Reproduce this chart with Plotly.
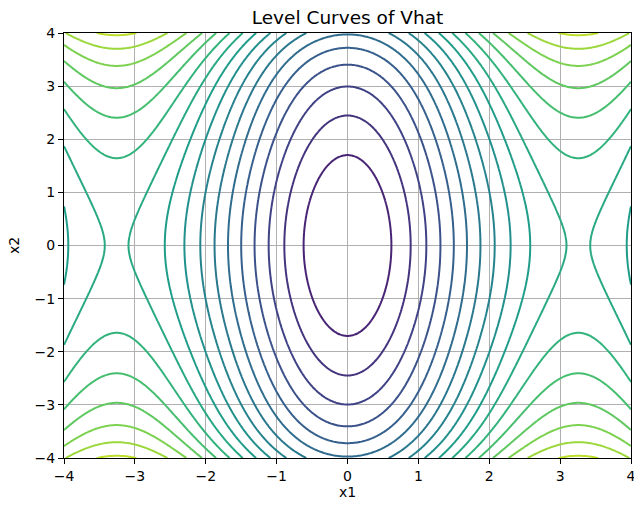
import numpy as np
import plotly.graph_objects as go
from plotly.colors import sample_colorscale

# where the level curves cross the x1 axis (x2 = 0), and their level index
x1_cross = [0.615, 0.88, 1.115, 1.30, 1.505, 1.69, 1.88, 2.08, 2.30, 2.57, 3.07, 3.25, 3.43, 3.94]
x1_level = [1, 2, 3, 4, 5, 6, 7, 8, 9, 10, 11, 11.04, 11, 10]

# where the level curves cross the x2 axis (x1 = 0)
x2_cross = [1.72, 2.44, 2.99, 3.40, 3.73, 3.97]
x2_level = [1, 2, 3, 4, 5, 6]

levels = list(range(1, 18))
tick_vals = [-4, -3, -2, -1, 0, 1, 2, 3, 4]


def fit_even(xs, vs, n):
    # even polynomial through the origin, least squares on the read crossings
    xs = np.asarray(xs, float)
    A = np.column_stack([xs ** (2 * k) for k in range(1, n + 1)])
    coef, *_ = np.linalg.lstsq(A, np.asarray(vs, float), rcond=None)
    return lambda t: sum(c * t ** (2 * k) for k, c in enumerate(coef, start=1))


f1 = fit_even(x1_cross, x1_level, 4)
f2 = fit_even(x2_cross, x2_level, 3)

x = np.linspace(-4, 4, 400)
y = np.linspace(-4, 4, 400)
X, Y = np.meshgrid(x, y)
Z = f1(X) + f2(Y)

# viridis, but only the part that the levels use in the reference
pos = np.linspace(0.1, 0.9, 17)
cscale = [[i / 16, c] for i, c in enumerate(sample_colorscale("Viridis", list(pos)))]

fig = go.Figure()
fig.add_trace(go.Contour(
    x=x, y=y, z=Z,
    contours=dict(coloring="lines", start=levels[0], end=levels[-1], size=1),
    line=dict(width=2),
    colorscale=cscale,
    showscale=False,
    hoverinfo="skip",
))

axis_style = dict(
    range=[-4, 4],
    tickvals=tick_vals,
    showgrid=True, gridcolor="#b0b0b0", gridwidth=1,
    zeroline=False,
    showline=True, linecolor="black", linewidth=1, mirror=True,
    ticks="outside", ticklen=5, tickcolor="black",
    tickfont=dict(size=14, color="black"),
    automargin=False,
    ticklabeloverflow="allow",
)

fig.update_layout(
    width=634, height=506,
    margin=dict(l=64, r=3, t=33, b=48),
    plot_bgcolor="white", paper_bgcolor="white",
    font=dict(family="DejaVu Sans", color="black"),
    title=dict(text="Level Curves of Vhat", x=(64 + 283.5) / 634, xanchor="center",
               y=1 - 17.5 / 506, yanchor="middle", font=dict(size=18.5)),
    xaxis=dict(axis_style, title=dict(text="x1", font=dict(size=14), standoff=3)),
    yaxis=dict(axis_style, title=dict(text="x2", font=dict(size=14), standoff=11)),
)

# drop the default page margin so the figure fills the window exactly
fig.write_html("out.html", config={"displayModeBar": False},
               post_script="document.body.style.margin='0';"
                           "document.body.style.overflow='hidden';")
